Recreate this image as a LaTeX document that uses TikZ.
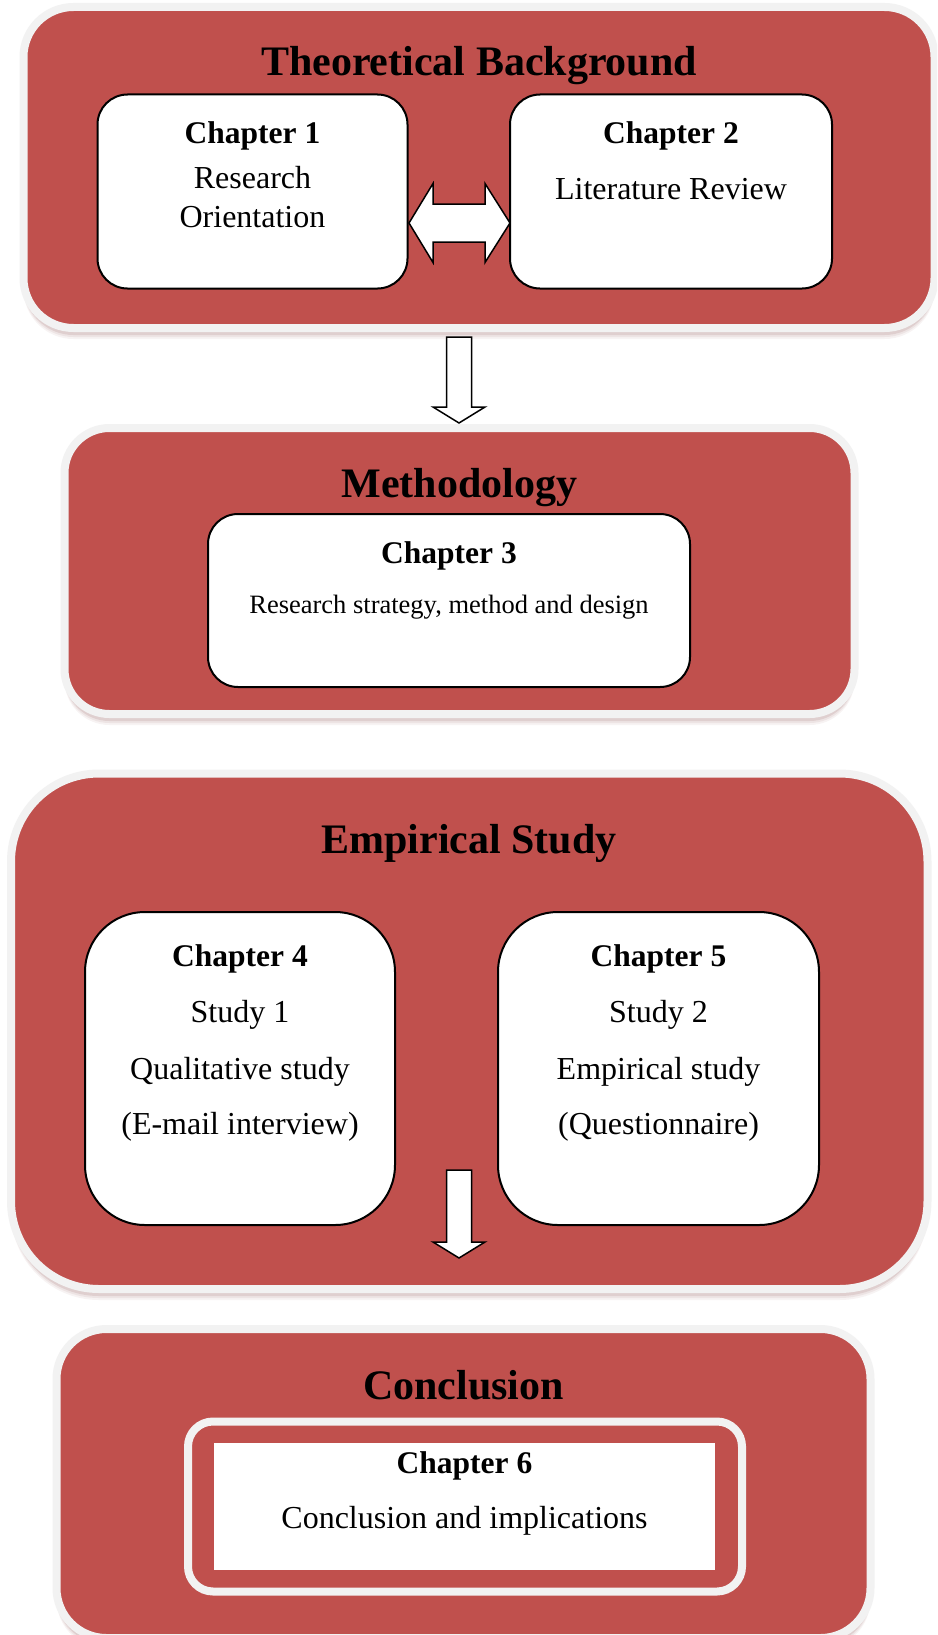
\documentclass[tikz,border=0pt]{standalone}
\usepackage{fontspec}
\setmainfont{Liberation Serif}
\usetikzlibrary{calc,shadows}
\definecolor{boxred}{HTML}{C0504D}
\definecolor{rimgray}{HTML}{F2F2F2}
\definecolor{shadowcol}{RGB}{130,60,60}
\tikzset{
  stage/.style={draw=rimgray, line width=8pt, fill=boxred, inner sep=0pt, outer sep=0pt, rounded corners=#1,
    drop shadow={shadow xshift=0pt, shadow yshift=-11pt, opacity=0.06, fill=shadowcol},
    drop shadow={shadow xshift=0pt, shadow yshift=-9pt, opacity=0.08, fill=shadowcol},
    drop shadow={shadow xshift=0pt, shadow yshift=-7pt, opacity=0.12, fill=shadowcol}},
  chapbox/.style={draw=black, line width=2pt, fill=white, inner sep=0pt, outer sep=0pt, rounded corners=#1},
  stagetitle/.style={font=\bfseries\fontsize{42}{50}\selectfont, inner sep=0pt, anchor=base},
  chaptitle/.style={font=\bfseries\fontsize{31.5}{38}\selectfont, inner sep=0pt, anchor=base},
  bodytext/.style={font=\fontsize{32}{38}\selectfont, inner sep=0pt, anchor=base},
  smallbody/.style={font=\fontsize{26.5}{32}\selectfont, inner sep=0pt, anchor=base},
  blockarrow/.style={draw=black, line width=1.5pt, fill=white, line join=miter},
}
\newcommand\downblock[2]{%
  \draw[blockarrow] ($(#1)+(-12.5,0)$) -- ($(#2)+(-12.5,-16)$) -- ($(#2)+(-26,-16)$) -- (#2)
    -- ($(#2)+(26,-16)$) -- ($(#2)+(12.5,-16)$) -- ($(#1)+(12.5,0)$) -- cycle;}
\begin{document}
\begin{tikzpicture}[x=1pt, y=-1pt]
\fill[white] (0,0) rectangle (937,1635);
\clip (0,0) rectangle (937,1635);

% section boxes
\node[stage=50pt, minimum width=911pt, minimum height=321pt] (box1) at (479,167.5) {};
\node[stage=45pt, minimum width=790pt, minimum height=286pt] (box2) at (459.5,571) {};
\node[stage=88pt, minimum width=916.5pt, minimum height=515.5pt] (box3) at (469.25,1031.25) {};
\node[stage=50pt, minimum width=814pt, minimum height=309pt] (box4) at (463.5,1483.5) {};

% chapter boxes
\node[chapbox=30pt, minimum width=310pt, minimum height=194pt] (ch1) at (252.5,191.5) {};
\node[chapbox=30pt, minimum width=322pt, minimum height=194pt] (ch2) at (671,191.5) {};
\node[chapbox=30pt, minimum width=482pt, minimum height=173pt] (ch3) at (449,600.5) {};
\node[chapbox=60pt, minimum width=310pt, minimum height=313pt] (ch4) at (240,1068.5) {};
\node[chapbox=60pt, minimum width=321pt, minimum height=313pt] (ch5) at (658.5,1068.5) {};
\node[draw=rimgray, line width=8pt, rounded corners=25pt, minimum width=554pt, minimum height=170pt, inner sep=0pt, outer sep=0pt] (frame6) at (465,1506.5) {};
\node[fill=white, minimum width=501pt, minimum height=127pt, inner sep=0pt, outer sep=0pt] (ch6) at (464.5,1506.5) {};

% arrows
\coordinate (dl) at ($(ch1.east)+(1.5,31.5)$);
\coordinate (dr) at ($(ch2.west)+(0,31.5)$);
\draw[blockarrow] (dl) -- ($(dl)+(24,-39.5)$) -- ($(dl)+(24,-19)$) -- ($(dr)+(-25,-19)$)
  -- ($(dr)+(-25,-39.5)$) -- (dr) -- ($(dr)+(-25,39.5)$) -- ($(dr)+(-25,19)$)
  -- ($(dl)+(24,19)$) -- ($(dl)+(24,39.5)$) -- cycle;
\coordinate (a1tip) at ($(box2.north)+(-0.5,-5)$);
\coordinate (a1start) at ($(a1tip |- box1.south)+(0,9)$);
\downblock{a1start}{a1tip}
\coordinate (a2tip) at ($(box4.north)+(-4.5,-71)$);
\coordinate (a2start) at ($(a2tip |- ch4.south)+(0,-55)$);
\downblock{a2start}{a2tip}

% texts
\node[stagetitle] (t1) at (479,76) {Theoretical Background};
\node[chaptitle] (c1) at (252.5,143) {Chapter 1};
\node[bodytext] (c1a) at (252.5,188) {Research};
\node[bodytext] (c1b) at (252.5,227) {Orientation};
\node[chaptitle] (c2) at (671,143) {Chapter 2};
\node[bodytext] (c2a) at (671,199) {Literature Review};

\node[stagetitle] (t2) at (459.5,497) {Methodology};
\node[chaptitle] (c3) at (449,563) {Chapter 3};
\node[smallbody] (c3a) at (449,613) {Research strategy, method and design};

\node[stagetitle] (t3) at (469,853) {Empirical Study};
\node[chaptitle] (c4) at (240,966) {Chapter 4};
\node[bodytext] (c4a) at (240,1022.5) {Study 1};
\node[bodytext] (c4b) at (240,1079) {Qualitative study};
\node[bodytext] (c4c) at (240,1134) {(E-mail interview)};
\node[chaptitle] (c5) at (658.5,966) {Chapter 5};
\node[bodytext] (c5a) at (658.5,1022.5) {Study 2};
\node[bodytext] (c5b) at (658.5,1079) {Empirical study};
\node[bodytext] (c5c) at (658.5,1134) {(Questionnaire)};

\node[stagetitle] (t4) at (463.5,1399) {Conclusion};
\node[chaptitle] (c6) at (464.5,1473) {Chapter 6};
\node[bodytext] (c6a) at (464.5,1528) {Conclusion and implications};
\end{tikzpicture}
\end{document}
